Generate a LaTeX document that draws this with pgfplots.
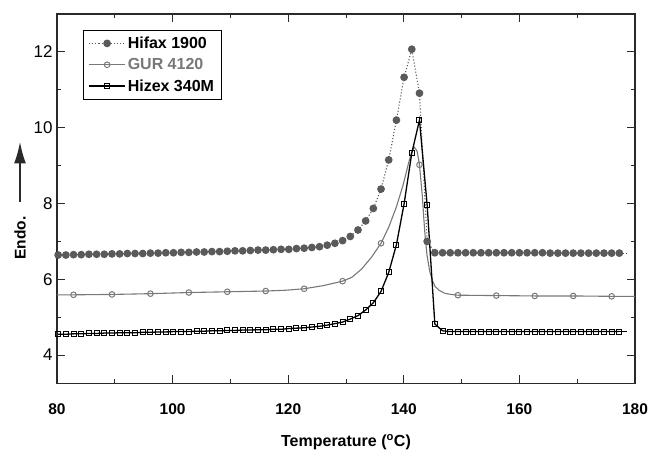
\documentclass[border=0pt]{standalone}
\usepackage{pgfplots}
\pgfplotsset{compat=1.18}
\usepackage{fontspec}
\setmainfont{Liberation Sans}
\usetikzlibrary{arrows.meta,calc}

\definecolor{hifaxc}{HTML}{5A5A5A}
\definecolor{gurc}{HTML}{787878}
\definecolor{axc}{HTML}{2A2A2A}

% Hifax 1900 (filled circles, dotted)
\pgfplotstableread{
x y
80.20 6.64
81.53 6.64
82.86 6.65
84.19 6.65
85.52 6.66
86.85 6.66
88.18 6.66
89.51 6.67
90.84 6.67
92.17 6.68
93.50 6.68
94.83 6.68
96.16 6.69
97.49 6.69
98.82 6.70
100.15 6.70
101.48 6.71
102.81 6.71
104.14 6.72
105.47 6.72
106.80 6.73
108.13 6.73
109.46 6.74
110.79 6.75
112.12 6.75
113.45 6.76
114.78 6.77
116.11 6.77
117.44 6.78
118.77 6.79
120.10 6.79
121.43 6.81
122.76 6.82
124.09 6.84
125.42 6.86
126.75 6.90
128.08 6.95
129.41 7.02
130.74 7.13
132.07 7.30
133.40 7.54
134.73 7.87
136.06 8.38
137.39 9.15
138.72 10.20
140.05 11.33
141.38 12.07
142.71 10.91
144.04 7.00
145.37 6.70
146.70 6.70
148.03 6.70
149.36 6.70
150.69 6.70
152.02 6.70
153.35 6.70
154.68 6.70
156.01 6.70
157.34 6.70
158.67 6.70
160.00 6.70
161.33 6.70
162.66 6.70
163.99 6.70
165.32 6.69
166.65 6.69
167.98 6.69
169.31 6.69
170.64 6.69
171.97 6.69
173.30 6.69
174.63 6.69
175.96 6.69
177.29 6.69
}\hifax

% Hizex 340M (open squares, solid black)
\pgfplotstableread{
x y
80.20 4.55
81.53 4.55
82.86 4.56
84.19 4.56
85.52 4.57
86.85 4.57
88.18 4.58
89.51 4.58
90.84 4.59
92.17 4.59
93.50 4.59
94.83 4.60
96.16 4.60
97.49 4.61
98.82 4.61
100.15 4.62
101.48 4.62
102.81 4.62
104.14 4.63
105.47 4.63
106.80 4.64
108.13 4.64
109.46 4.65
110.79 4.65
112.12 4.66
113.45 4.66
114.78 4.67
116.11 4.67
117.44 4.68
118.77 4.68
120.10 4.70
121.43 4.71
122.76 4.72
124.09 4.74
125.42 4.76
126.75 4.79
128.08 4.83
129.41 4.87
130.74 4.95
132.07 5.04
133.40 5.19
134.73 5.38
136.06 5.68
137.39 6.18
138.72 6.91
140.05 7.99
141.38 9.33
142.71 10.20
144.04 7.96
145.37 4.82
146.70 4.64
148.03 4.62
149.36 4.62
150.69 4.62
152.02 4.62
153.35 4.62
154.68 4.62
156.01 4.62
157.34 4.62
158.67 4.62
160.00 4.62
161.33 4.62
162.66 4.62
163.99 4.62
165.32 4.62
166.65 4.62
167.98 4.62
169.31 4.62
170.64 4.62
171.97 4.62
173.30 4.62
174.63 4.62
175.96 4.62
177.29 4.62
}\hizex

% GUR 4120 line
\pgfplotstableread{
x y
80.00 5.59
82.86 5.59
89.51 5.60
96.16 5.62
102.81 5.65
109.46 5.67
116.11 5.69
119.50 5.71
122.76 5.75
126.00 5.83
129.41 5.95
131.00 6.05
132.70 6.27
134.40 6.58
136.06 6.95
137.40 7.38
138.70 7.90
139.90 8.50
140.80 9.05
141.30 9.33
141.80 9.49
142.30 9.38
142.71 9.02
143.20 8.20
143.60 7.30
144.00 6.65
144.50 6.20
145.00 5.95
145.40 5.81
146.20 5.70
147.10 5.63
148.20 5.60
149.36 5.58
156.01 5.57
162.66 5.56
169.31 5.56
175.96 5.55
180.00 5.55
}\gurline

% GUR 4120 markers
\pgfplotstableread{
x y
82.86 5.59
89.51 5.60
96.16 5.62
102.81 5.65
109.46 5.67
116.11 5.69
122.76 5.75
129.41 5.95
136.06 6.95
142.71 9.02
149.36 5.58
156.01 5.57
162.66 5.56
169.31 5.56
175.96 5.55
}\gurmarks

\begin{document}
\begin{tikzpicture}
\pgfplotsset{
  hifaxstyle/.style={color=hifaxc, dotted, line width=1.1pt, mark=*, mark size=3.3pt, mark options={solid, fill=hifaxc, draw=hifaxc}},
  gurstyle/.style={color=gurc, solid, line width=1.1pt, mark=o, mark size=2.8pt, mark options={solid, fill=white, draw=gurc, line width=1pt}},
  hizexstyle/.style={color=black, solid, line width=1.3pt, mark=square, mark size=2.5pt, mark options={solid, fill=white, draw=black, line width=1pt}},
}
\begin{axis}[
  scale only axis,
  width=578pt, height=369.5pt,
  xmin=80, xmax=180, ymin=3.25, ymax=13,
  xtick={80,100,...,180}, ytick={4,6,...,12},
  minor x tick num=1, minor y tick num=1,
  major tick length=8pt, minor tick length=4pt,
  tick align=inside,
  axis line style={color=axc, line width=1.1pt},
  every tick/.style={color=axc, line width=1pt},
  /pgf/number format/assume math mode=true,
  xticklabel style={font=\bfseries\fontsize{15.5}{18}\selectfont, yshift=-17pt},
  yticklabel style={font=\fontsize{17}{20}\selectfont, xshift=-1pt},
  clip=true,
  legend cell align=left,
  legend style={at={(0.045,0.957)}, anchor=north west, draw=black, line width=0.9pt,
    font=\bfseries\fontsize{16}{19}\selectfont, row sep=4.5pt, inner xsep=5pt, inner ysep=4.5pt},
  legend image code/.code={\draw[mark repeat=2,mark phase=2] plot coordinates {(0pt,0pt) (18pt,0pt) (36pt,0pt)};},
]
\addlegendimage{hifaxstyle}
\addlegendentry{Hifax 1900}
\addlegendimage{gurstyle}
\addlegendentry{\textcolor{gurc}{GUR 4120}}
\addlegendimage{hizexstyle}
\addlegendentry{Hizex 340M}

\addplot[gurstyle, mark=none, forget plot] table[x=x, y=y] {\gurline};
\addplot[gurstyle, only marks, forget plot] table[x=x, y=y] {\gurmarks};
\addplot[hifaxstyle, forget plot] table[x=x, y=y] {\hifax};
\addplot[hifaxstyle, mark=none, forget plot] coordinates {(177.29,6.69) (178.6,6.69)};
\addplot[hizexstyle, forget plot] table[x=x, y=y] {\hizex};
\addplot[hizexstyle, mark=none, forget plot] coordinates {(177.29,4.62) (178.6,4.62)};
\end{axis}
\node[font=\bfseries\fontsize{16}{19}\selectfont] at ($(current axis.south)+(0,-59pt)$) {Temperature (\textsuperscript{o}C)};
\node[font=\bfseries\fontsize{15.5}{18}\selectfont, rotate=90] at ($(current axis.south west)+(-37pt,145.5pt)$) {Endo.};
\draw[-{Latex[length=22pt,width=12pt]}, line width=2.2pt, color=axc] ($(current axis.south west)+(-37pt,181.5pt)$) -- ($(current axis.south west)+(-37pt,242pt)$);
\pgfresetboundingbox
\path ($(current axis.south west)+(-57pt,-67.5pt)$) rectangle ($(current axis.north east)+(16pt,14pt)$);
\end{tikzpicture}
\end{document}
